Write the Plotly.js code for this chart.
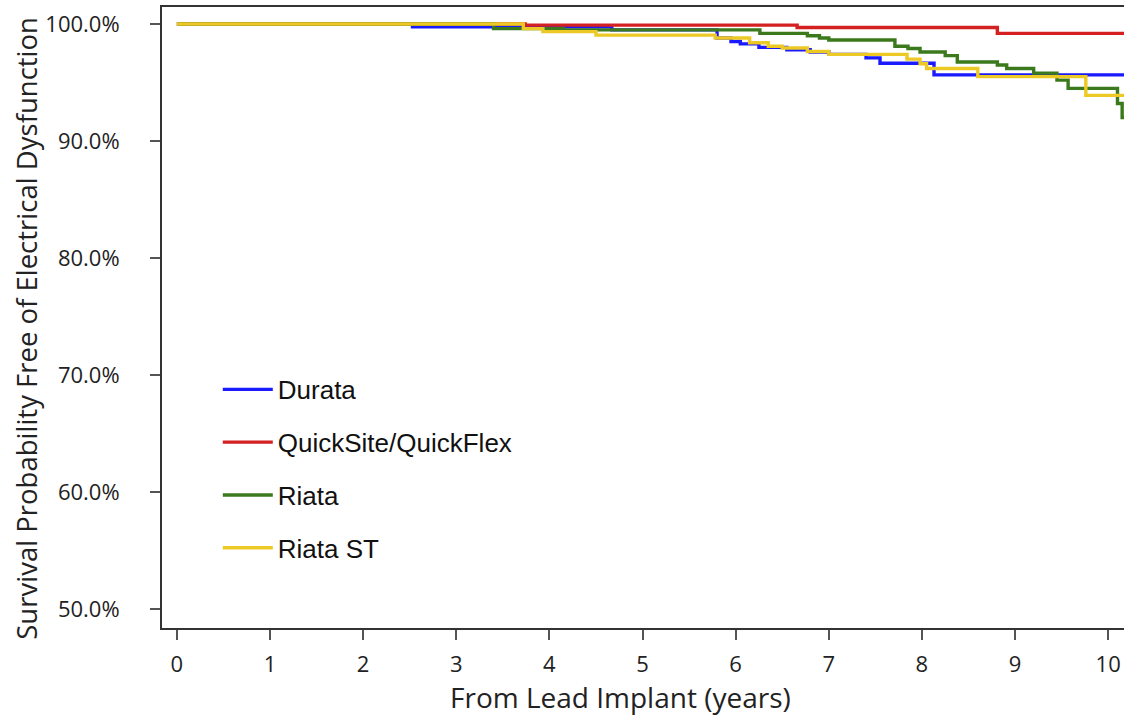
<!DOCTYPE html>
<html>
<head>
<meta charset="utf-8">
<script src="https://cdn.plot.ly/plotly-3.0.1.min.js"></script>
<style>html,body{margin:0;padding:0;background:#fff;}#chart{width:1124px;height:717px;}</style>
</head>
<body>
<div id="chart"></div>
<script>
// Kaplan-Meier step curves (years, survival %)
const seriesNames = ["Durata", "QuickSite/QuickFlex", "Riata", "Riata ST"];

const durataT = [0, 2.53, 4.67, 5.80, 5.95, 6.05, 6.25, 6.55, 6.80, 7.00, 7.40, 7.55, 8.13, 10.20];
const durataS = [100, 99.75, 99.5, 98.8, 98.5, 98.3, 98.0, 97.8, 97.6, 97.4, 97.1, 96.65, 95.65, 95.65];

const quickT = [0, 3.74, 6.66, 8.81, 10.20];
const quickS = [100, 99.9, 99.7, 99.2, 99.2];

const riataT = [0, 3.40, 4.15, 6.26, 6.77, 6.90, 7.00, 7.71, 7.85, 7.98, 8.25, 8.38, 8.81, 8.91, 9.20, 9.45, 9.57, 10.10, 10.15, 10.20];
const riataS = [100, 99.6, 99.5, 99.2, 99.0, 98.8, 98.63, 98.1, 97.9, 97.6, 97.3, 96.75, 96.5, 96.2, 95.8, 95.2, 94.5, 93.2, 92.0, 92.0];

const riataStT = [0, 3.72, 3.93, 4.50, 5.78, 6.15, 6.35, 6.50, 6.77, 7.00, 7.84, 7.98, 8.05, 8.60, 9.76, 10.20];
const riataStS = [100, 99.6, 99.35, 99.05, 98.8, 98.4, 98.1, 97.95, 97.65, 97.4, 97.0, 96.6, 96.2, 95.5, 93.9, 93.9];

const xTicks = [0, 1, 2, 3, 4, 5, 6, 7, 8, 9, 10];
const yTicks = [50, 60, 70, 80, 90, 100];

const colors = ["#1a1aff", "#d42020", "#3b7a1c", "#ecc924"];
const xs = [durataT, quickT, riataT, riataStT];
const ys = [durataS, quickS, riataS, riataStS];

const traces = seriesNames.map((n, i) => ({
  type: "scatter",
  mode: "lines",
  name: n,
  legendgroup: "g" + i,
  x: xs[i],
  y: ys[i],
  line: {color: colors[i], width: 3.4, shape: "hv"},
  hoverinfo: "skip"
}));

const layout = {
  width: 1124,
  height: 717,
  margin: {l: 162, r: 0, t: 7, b: 89, pad: 0},
  paper_bgcolor: "#ffffff",
  plot_bgcolor: "#ffffff",
  showlegend: true,
  legend: {
    x: 0.058, y: 0.422, xanchor: "left", yanchor: "top",
    font: {family: "Liberation Sans, Arial, sans-serif", size: 26, color: "#111"},
    traceorder: "grouped",
    tracegroupgap: 16,
    itemwidth: 50,
    bgcolor: "rgba(0,0,0,0)"
  },
  xaxis: {
    range: [-0.16, 10.17],
    tickmode: "array",
    tickvals: xTicks,
    ticktext: xTicks.map(String),
    showgrid: false, zeroline: false,
    showline: true, mirror: true, linecolor: "#333", linewidth: 2,
    ticks: "outside", ticklen: 10, tickwidth: 2, tickcolor: "#555",
    ticklabelstandoff: 6,
    tickfont: {family: "Open Sans, sans-serif", size: 22, color: "#222"}
  },
  yaxis: {
    range: [48.4, 101.45],
    tickmode: "array",
    tickvals: yTicks,
    ticktext: yTicks.map(v => v.toFixed(1) + "%"),
    showgrid: false, zeroline: false,
    showline: true, mirror: false, linecolor: "#333", linewidth: 2,
    ticks: "outside", ticklen: 10, tickwidth: 2, tickcolor: "#555",
    ticklabelstandoff: 26,
    tickfont: {family: "Open Sans, sans-serif", size: 22, color: "#222"}
  },
  annotations: [
    {text: "Survival Probability Free of Electrical Dysfunction", xref: "paper", yref: "paper",
     x: -0.1403, y: 0.482, xanchor: "center", yanchor: "middle", textangle: -90, showarrow: false,
     font: {family: "Open Sans, sans-serif", size: 27.5, color: "#222"}},
    {text: "From Lead Implant (years)", xref: "paper", yref: "paper",
     x: 0.477, y: -0.111, xanchor: "center", yanchor: "middle", showarrow: false,
     font: {family: "Open Sans, sans-serif", size: 28, color: "#222"}}
  ]
};

Plotly.newPlot("chart", traces, layout, {staticPlot: true, displayModeBar: false});
</script>
</body>
</html>
